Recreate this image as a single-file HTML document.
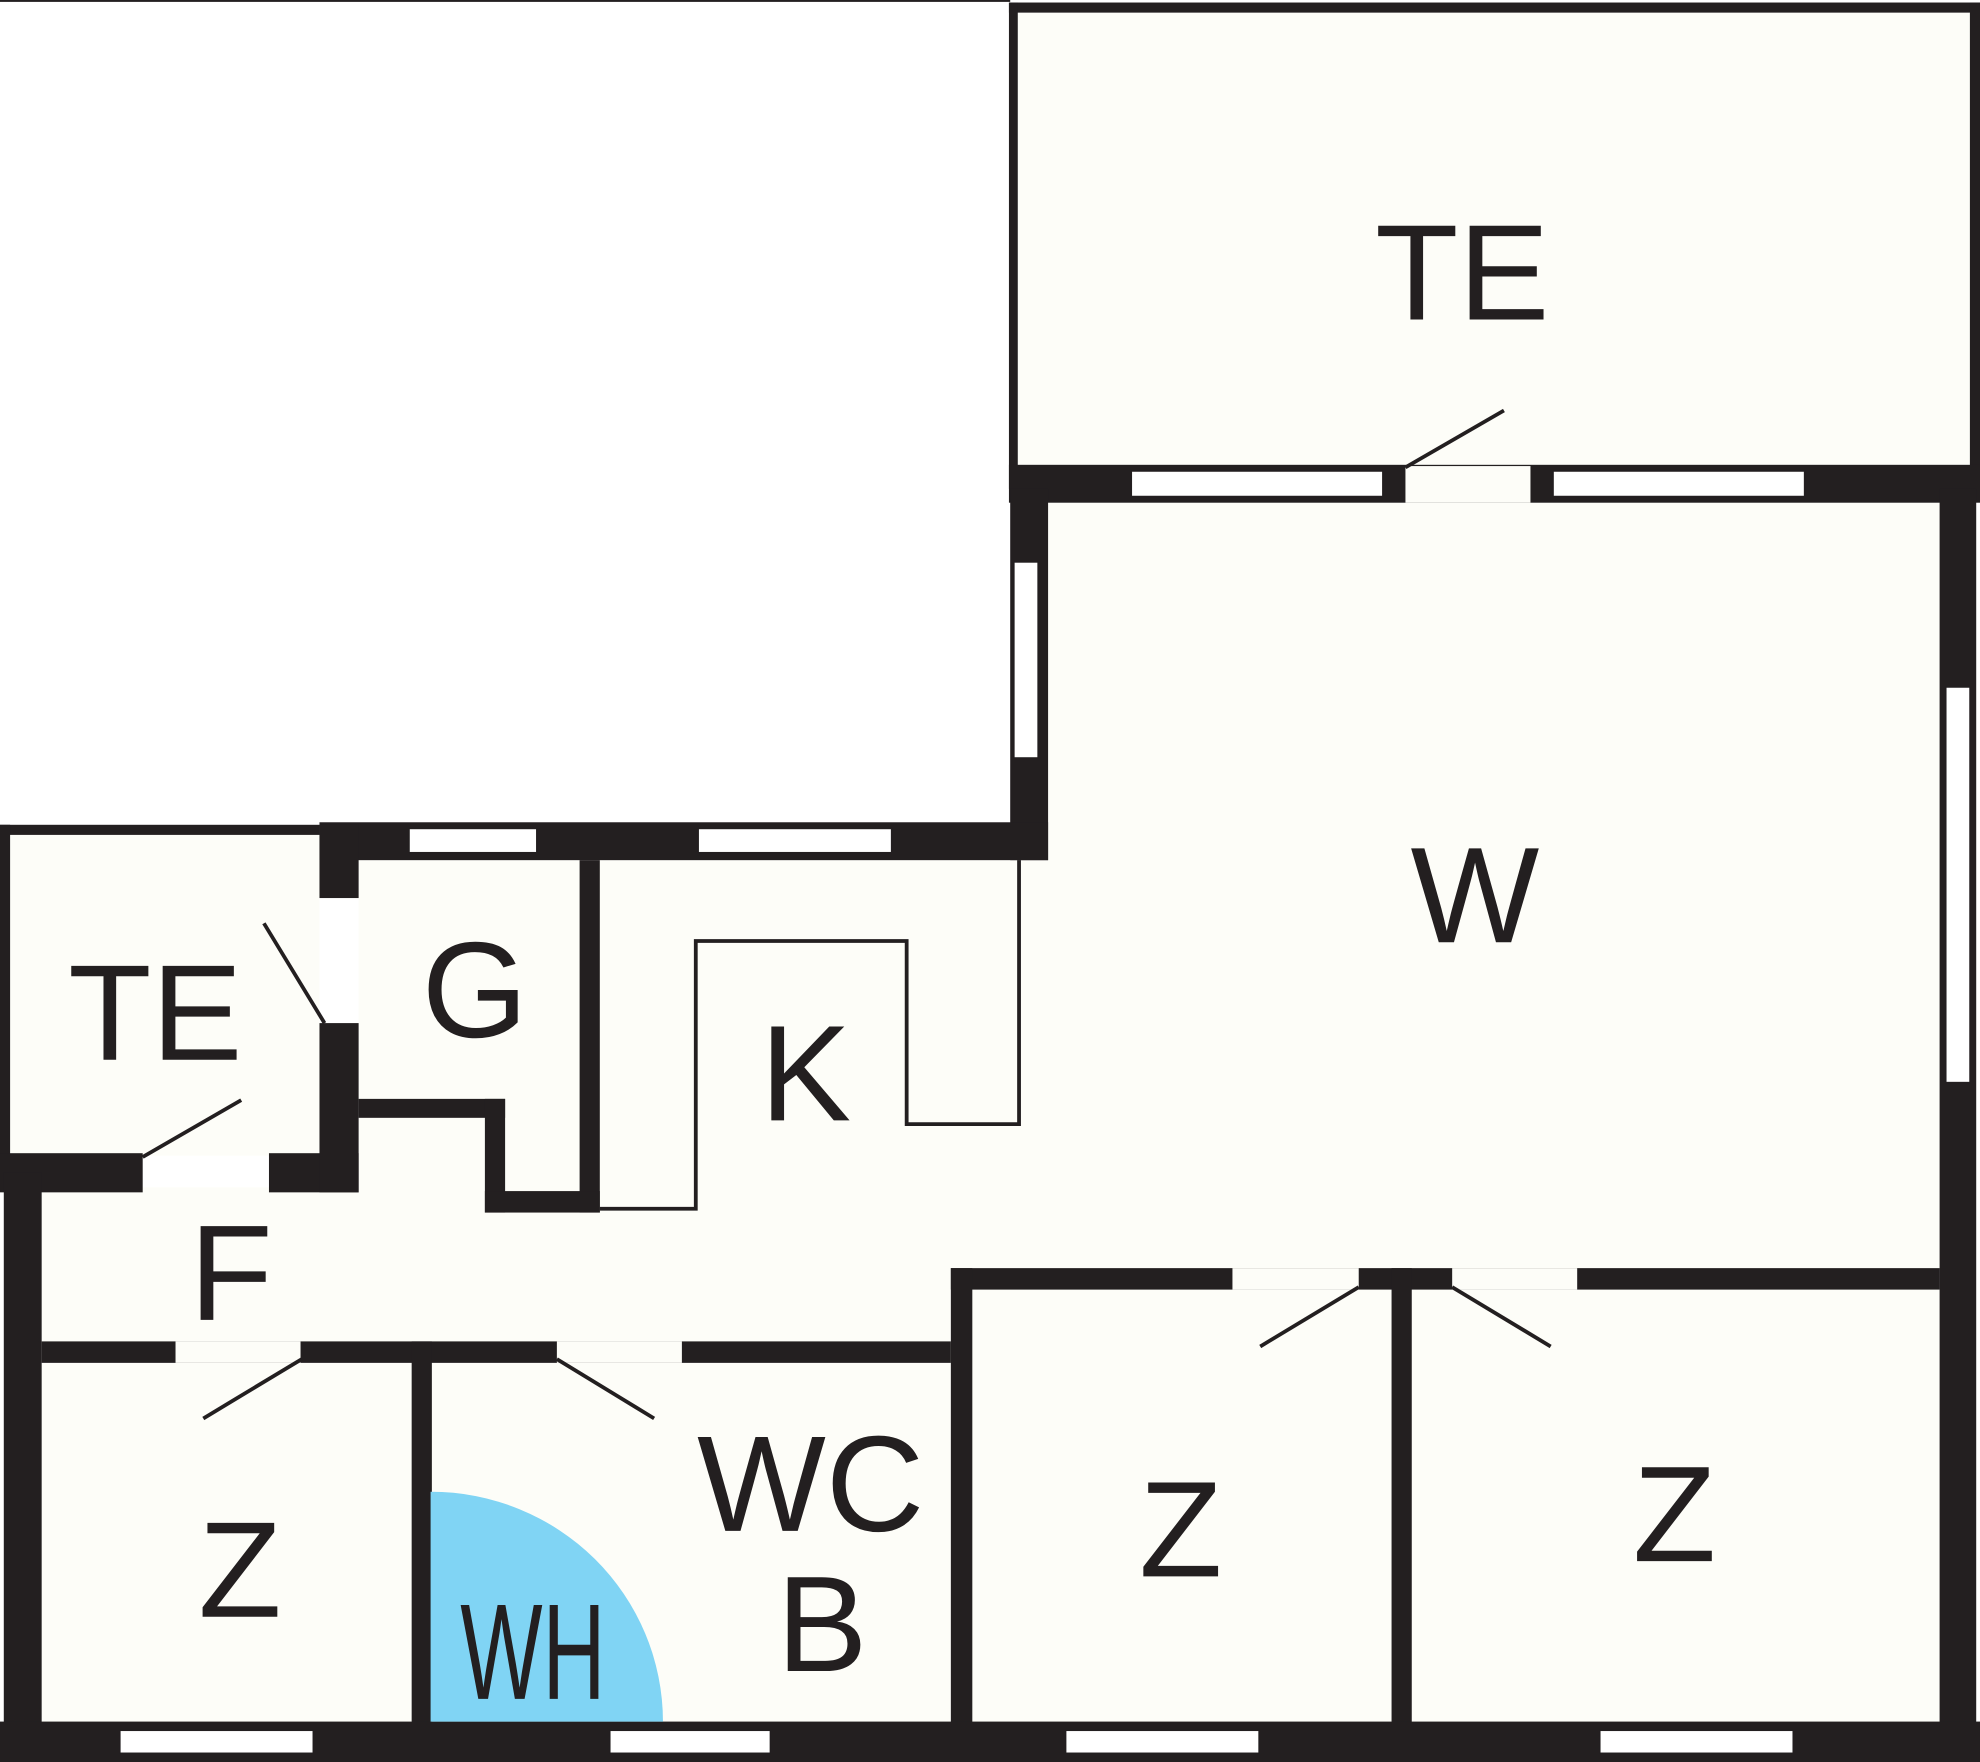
<!DOCTYPE html>
<html><head><meta charset="utf-8"><style>html,body{margin:0;padding:0;background:#fff}svg{display:block}</style></head>
<body>
<svg width="1980" height="1762" viewBox="0 0 1568 1395" xmlns="http://www.w3.org/2000/svg" preserveAspectRatio="none">
<rect x="0" y="0" width="800" height="1.5" fill="#231f20"/>
<g fill="#fdfdf8">
<rect x="806" y="10" width="754" height="360"/>
<rect x="830" y="398" width="706" height="610"/>
<rect x="8" y="661" width="245" height="254"/>
<rect x="284" y="681" width="546" height="330"/>
<rect x="33" y="940" width="720" height="125"/>
<rect x="33" y="1079" width="293" height="285"/>
<rect x="342" y="1079" width="411" height="285"/>
<rect x="770" y="1021" width="332" height="343"/>
<rect x="1118" y="1021" width="418" height="343"/>
</g>
<rect x="253" y="711" width="31" height="99" fill="#fff"/>
<g fill="#231f20">
<rect x="799" y="2" width="769" height="8"/>
<rect x="799" y="2" width="7" height="385"/>
<rect x="1560" y="2" width="8" height="385"/>
<rect x="799" y="368" width="769" height="30"/>
<rect x="800" y="387" width="30" height="294"/>
<rect x="1536" y="387" width="29" height="1008"/>
<rect x="253" y="651" width="577" height="30"/>
<rect x="0" y="653" width="253" height="8"/>
<rect x="0" y="653" width="8" height="276"/>
<rect x="0" y="913" width="113" height="31"/>
<rect x="213" y="913" width="71" height="31"/>
<rect x="253" y="653" width="31" height="58"/>
<rect x="253" y="810" width="31" height="134"/>
<rect x="459" y="681" width="16" height="279"/>
<rect x="284" y="870" width="116" height="15"/>
<rect x="384" y="870" width="16" height="90"/>
<rect x="384" y="943" width="91" height="17"/>
<rect x="3" y="928" width="30" height="467"/>
<rect x="33" y="1062" width="720" height="17"/>
<rect x="753" y="1004" width="783" height="17"/>
<rect x="753" y="1004" width="17" height="391"/>
<rect x="1102" y="1004" width="16" height="391"/>
<rect x="326" y="1062" width="16" height="333"/>
<rect x="0" y="1363" width="1568" height="32"/>
</g>
<g fill="#fdfdf8">
<rect x="1113" y="369" width="99" height="29"/>
<rect x="139" y="1062" width="99" height="17"/>
<rect x="441" y="1062" width="99" height="17"/>
<rect x="976" y="1004" width="100" height="17"/>
<rect x="1150" y="1004" width="99" height="17"/>
</g>
<g fill="#fff" stroke="#231f20" stroke-width="1">
<rect x="896" y="373" width="199" height="20"/>
<rect x="1230" y="373" width="199" height="20"/>
<rect x="803" y="445" width="19" height="155"/>
<rect x="1541" y="544" width="19" height="313"/>
<rect x="324" y="656" width="101" height="19"/>
<rect x="553" y="656" width="153" height="19"/>
<rect x="95" y="1370" width="153" height="18"/>
<rect x="483" y="1370" width="127" height="18"/>
<rect x="844" y="1370" width="153" height="18"/>
<rect x="1267" y="1370" width="153" height="18"/>
</g>
<g stroke="#231f20" stroke-width="3" fill="none">
<line x1="1113" y1="370" x2="1191" y2="325"/>
<line x1="113" y1="916" x2="191" y2="871"/>
<line x1="209" y1="731" x2="257" y2="810"/>
<line x1="239" y1="1076" x2="161" y2="1123"/>
<line x1="441" y1="1076" x2="518" y2="1123"/>
<line x1="1076" y1="1019" x2="998" y2="1066"/>
<line x1="1150" y1="1019" x2="1228" y2="1066"/>
<polyline points="475,957 551,957 551,745 718,745 718,890 807,890 807,681" stroke-width="3"/>
</g>
<path d="M341,1181 A184,182 0 0 1 525,1363 L341,1363 Z" fill="#80d4f4"/>
<g font-family="Liberation Sans, sans-serif" font-size="108" fill="#231f20" text-anchor="middle">
<text x="1158" y="253">TE</text>
<text x="1168" y="746">W</text>
<text x="376" y="821">G</text>
<text x="638" y="887">K</text>
<text x="123" y="839">TE</text>
<text x="183" y="1045">F</text>
<text x="190" y="1280">Z</text>
<text x="642" y="1212">WC</text>
<text x="651" y="1323">B</text>
<text x="422" y="1345" textLength="115" lengthAdjust="spacingAndGlyphs">WH</text>
<text x="935" y="1248">Z</text>
<text x="1326" y="1236">Z</text>
</g>
</svg>
</body></html>
